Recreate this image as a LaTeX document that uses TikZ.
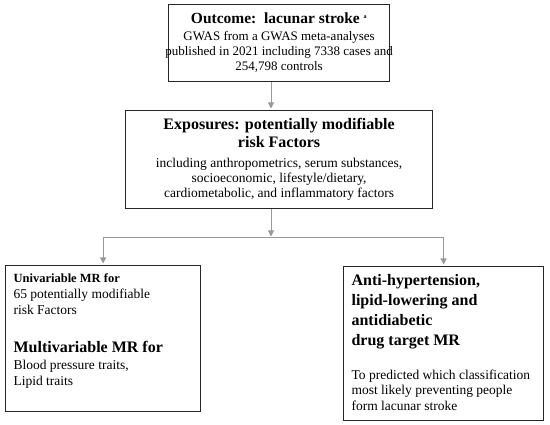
\documentclass[tikz,border=0pt]{standalone}
\usepackage{fontspec}
\setmainfont{Liberation Serif}
\usetikzlibrary{arrows.meta}

\tikzset{
  box/.style={draw=black!85, line width=1.2pt, inner xsep=8pt, inner ysep=8pt, anchor=north west},
  link/.style={draw=black!40, line width=1pt, -{Triangle[length=6pt,width=6pt]}, shorten >=1.5pt},
}
\newcommand{\bodyfont}{\fontsize{13.5}{15}\selectfont}

\begin{document}
\begin{tikzpicture}[x=1pt,y=-1pt]
    \useasboundingbox (0,0) rectangle (550,425);

    \node[box] (outcome) at (168,4) {\parbox[t][61pt][t]{205pt}{\centering
        {\fontsize{15.5}{18}\bfseries Outcome:\ \ lacunar stroke \textsuperscript{\fontsize{6}{6}\selectfont a}\par}
        \vspace{2pt}
        {\fontsize{13}{15}\selectfont GWAS from a GWAS meta-analyses\\
        \makebox[205pt]{published in 2021 including 7338 cases and}\\
        254,798 controls\par}}};

    \node[box] (expo) at (125,110) {\parbox[t][82pt][t]{291pt}{\centering
        {\fontsize{16}{18}\bfseries Exposures: potentially modifiable\\ risk Factors\par}
        \vspace{5pt}
        {\bodyfont including anthropometrics, serum substances,\\
        socioeconomic, lifestyle/dietary,\\
        cardiometabolic, and inflammatory factors\par}}};

    \node[box] (uni) at (5,265) {\parbox[t][130pt][t]{179pt}{
        {\fontsize{12.5}{15}\bfseries Univariable MR for\par}
        {\fontsize{13.5}{16}\selectfont 65 potentially modifiable\\ risk Factors\par}
        \vspace{20pt}
        {\fontsize{16}{18}\bfseries Multivariable MR for\par}
        \vspace{2pt}
        {\fontsize{13.5}{15.5}\selectfont Blood pressure traits,\\ Lipid traits\par}}};

    \node[box] (drug) at (343,266) {\parbox[t][138pt][t]{184pt}{
        {\fontsize{16}{20}\bfseries Anti-hypertension,\\ lipid-lowering and\\ antidiabetic\\ drug target MR\par}
        \vspace{18pt}
        {\fontsize{13.5}{15.5}\selectfont To predicted which classification\\
        most likely preventing people\\ form lacunar stroke\par}}};

    \coordinate (split) at (271,238);
    \draw[link] (split |- outcome.south) -- (split |- expo.north);
    \draw[link] (split |- expo.south) -- (split);
    \draw[link] (split) -| (uni.north);
    \draw[link] (split) -| (drug.north);
\end{tikzpicture}
\end{document}
